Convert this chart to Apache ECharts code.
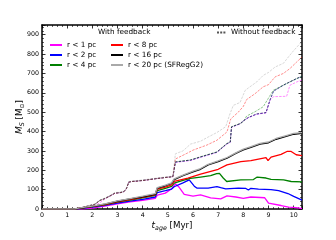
<!DOCTYPE html>
<html><head><meta charset="utf-8">
<script src="https://cdn.jsdelivr.net/npm/echarts@6/dist/echarts.min.js"></script>
<style>html,body{margin:0;padding:0;background:#fff}#c{width:336px;height:240px}</style>
</head><body><div id="c"></div><script>
// ---- With feedback (solid) ----
const tR1 = [0, 1.5, 2.0, 2.5, 3.0, 3.5, 4.0, 4.5, 4.58, 4.9, 5.15, 5.3, 5.45, 5.65, 6.0, 6.3, 6.7, 7.1, 7.35, 7.7, 8.0, 8.3, 8.85, 9.0, 9.5, 9.8, 10.1, 10.33];
const mR1 = [0, 0, 4, 15, 27, 37, 45, 55, 72, 82, 105, 130, 112, 75, 67, 73, 57, 52, 68, 62, 55, 62, 58, 30, 18, 10, 7, 2];
const tR2 = [0, 1.3, 1.5, 2.0, 2.5, 3.0, 3.5, 4.0, 4.5, 4.58, 4.9, 5.15, 5.25, 5.6, 5.85, 5.92, 6.05, 6.15, 6.6, 6.95, 7.1, 7.3, 7.8, 8.1, 8.2, 8.3, 8.6, 9.1, 9.4, 9.77, 10.0, 10.33];
const mR2 = [0, 0, 2, 10, 19, 31, 41, 50, 62, 85, 95, 103, 115, 135, 150, 148, 118, 108, 108, 115, 110, 104, 108, 106, 98, 107, 103, 100, 95, 80, 65, 46];
const tR4 = [0, 1.3, 1.5, 2.0, 2.5, 3.0, 3.5, 4.0, 4.5, 4.58, 4.9, 5.15, 5.25, 5.6, 5.9, 6.3, 6.7, 6.94, 7.05, 7.2, 7.34, 7.9, 8.4, 8.55, 8.9, 9.1, 9.6, 9.9, 10.33];
const mR4 = [0, 0, 3, 12, 22, 35, 46, 57, 70, 95, 106, 117, 133, 148, 158, 165, 172, 183, 184, 160, 142, 150, 152, 165, 160, 153, 150, 142, 140];
const tR8 = [0, 1.3, 1.5, 2.0, 2.5, 3.0, 3.5, 4.0, 4.5, 4.58, 4.9, 5.15, 5.25, 5.8, 6.3, 7.0, 7.35, 7.9, 8.3, 8.9, 8.98, 9.1, 9.5, 9.75, 9.9, 10.1, 10.33];
const mR8 = [0, 0, 4, 13, 23, 37, 49, 60, 73, 102, 113, 125, 143, 160, 180, 205, 228, 245, 250, 265, 250, 268, 282, 298, 297, 280, 276];
const tR16 = [0, 1.3, 1.5, 2.0, 2.5, 3.0, 3.5, 4.0, 4.5, 4.58, 4.9, 5.15, 5.25, 5.6, 6.0, 6.3, 6.6, 7.0, 7.35, 7.7, 8.0, 8.3, 8.66, 9.0, 9.3, 9.7, 10.0, 10.33];
const mR16 = [0, 0, 5, 14, 25, 40, 52, 63, 76, 108, 120, 132, 152, 172, 192, 205, 228, 245, 262, 287, 305, 318, 335, 342, 360, 375, 386, 390];
const tR20 = [0, 1.3, 1.5, 2.0, 2.5, 3.0, 3.5, 4.0, 4.5, 4.58, 4.9, 5.15, 5.25, 5.6, 6.0, 6.3, 6.6, 7.0, 7.35, 7.7, 8.0, 8.3, 8.66, 9.0, 9.3, 9.7, 10.0, 10.33];
const mR20 = [0, 0, 6, 15, 27, 42, 54, 66, 79, 111, 123, 135, 156, 175, 195, 209, 231, 248, 266, 290, 309, 322, 339, 346, 364, 379, 390, 394];

// ---- Without feedback (dashed) ----
const tNR1 = [0, 1.3, 1.5, 1.8, 2.1, 2.3, 2.5, 2.7, 2.9, 3.1, 3.25, 3.35, 3.45, 3.6, 4.0, 4.5, 5.0, 5.2, 5.3, 5.9, 6.3, 6.95, 7.34, 7.48, 7.53, 7.87, 8.0, 8.2, 8.53, 8.9, 9.06, 9.2, 9.72, 9.85, 10.12, 10.33];
const mNR1 = [0, 0, 3, 10, 18, 32, 52, 66, 81, 84, 89, 104, 139, 142, 147, 156, 164, 167, 240, 250, 267, 292, 335, 344, 422, 439, 454, 471, 489, 496, 562, 580, 582, 639, 656, 666];
const tNR2 = [0, 1.3, 1.5, 1.8, 2.1, 2.3, 2.5, 2.7, 2.9, 3.1, 3.25, 3.35, 3.45, 3.6, 4.0, 4.5, 5.0, 5.2, 5.3, 5.9, 6.3, 6.95, 7.34, 7.48, 7.53, 7.87, 8.0, 8.2, 8.53, 8.9, 9.06, 9.2, 9.59, 9.85, 10.12, 10.33];
const mNR2 = [0, 0, 5, 14, 24, 44, 54, 67, 82, 84, 89, 104, 139, 142, 147, 156, 164, 167, 242, 252, 268, 293, 336, 345, 423, 440, 455, 472, 490, 497, 563, 608, 639, 656, 673, 685];
const tNR4 = [0, 1.3, 1.5, 1.8, 2.1, 2.3, 2.5, 2.7, 2.9, 3.1, 3.25, 3.35, 3.45, 3.6, 4.0, 4.5, 5.0, 5.2, 5.3, 5.9, 6.3, 6.95, 7.34, 7.48, 7.53, 7.87, 8.0, 8.13, 8.46, 8.79, 8.99, 9.19, 9.59, 9.85, 10.12, 10.33];
const mNR4 = [0, 0, 5, 14, 24, 44, 54, 67, 82, 84, 89, 104, 139, 142, 147, 156, 164, 167, 243, 253, 270, 295, 338, 347, 425, 441, 450, 480, 502, 528, 571, 613, 639, 656, 673, 685];
const tNR8 = [0, 1.3, 1.5, 1.8, 2.1, 2.3, 2.5, 2.7, 2.9, 3.1, 3.25, 3.35, 3.45, 3.6, 4.0, 4.5, 5.0, 5.2, 5.3, 5.75, 6.0, 6.55, 6.95, 7.35, 7.5, 7.8, 8.0, 8.13, 8.46, 8.79, 9.0, 9.26, 9.59, 9.85, 10.12, 10.33];
const mNR8 = [0, 0, 5, 14, 24, 44, 54, 67, 82, 84, 89, 104, 139, 142, 147, 156, 164, 167, 258, 287, 304, 330, 355, 398, 465, 500, 530, 565, 595, 631, 642, 682, 700, 725, 759, 785];
const tNR16 = [0, 1.3, 1.5, 1.8, 2.1, 2.3, 2.5, 2.7, 2.9, 3.1, 3.25, 3.35, 3.45, 3.6, 4.0, 4.5, 5.0, 5.2, 5.3, 5.9, 6.3, 6.95, 7.34, 7.48, 7.53, 7.87, 8.0, 8.2, 8.53, 8.9, 9.06, 9.2, 9.59, 9.85, 10.12, 10.33];
const mNR16 = [0, 0, 5, 15, 25, 45, 55, 68, 83, 85, 90, 105, 140, 143, 148, 157, 165, 168, 243, 253, 269, 294, 337, 346, 424, 441, 456, 473, 491, 498, 564, 609, 640, 657, 674, 686];
const tNR20 = [0, 1.3, 1.5, 1.8, 2.1, 2.3, 2.5, 2.7, 2.9, 3.1, 3.25, 3.35, 3.45, 3.6, 4.0, 4.5, 5.0, 5.2, 5.3, 5.6, 5.9, 6.3, 6.55, 6.95, 7.3, 7.45, 7.6, 7.87, 8.07, 8.2, 8.53, 8.79, 9.0, 9.26, 9.59, 9.79, 10.0, 10.33];
const mNR20 = [0, 0, 6, 16, 26, 46, 57, 70, 85, 87, 92, 107, 142, 145, 150, 159, 167, 170, 285, 300, 335, 350, 368, 395, 425, 485, 535, 550, 612, 625, 656, 690, 705, 733, 752, 785, 818, 865];

// ---- labels ----
const solidNames = ['r < 1 pc', 'r < 2 pc', 'r < 4 pc', 'r < 8 pc', 'r < 16 pc', 'r < 20 pc (SFRegG2)'];
const legendTitle = 'With feedback';
const dashedLegendName = 'Without feedback';
const xTicks = [0, 1, 2, 3, 4, 5, 6, 7, 8, 9, 10];
const yTicks = [0, 100, 200, 300, 400, 500, 600, 700, 800, 900];

const colors = ['#ff00ff', '#0000ff', '#008000', '#ff0000', '#000000', '#a9a9a9'];
const zip = (t, m) => t.map((v, i) => [v, m[i]]);
const solidData = [[tR1, mR1], [tR2, mR2], [tR4, mR4], [tR8, mR8], [tR16, mR16], [tR20, mR20]];
const dashedData = [[tNR1, mNR1], [tNR2, mNR2], [tNR4, mNR4], [tNR8, mNR8], [tNR16, mNR16], [tNR20, mNR20]];

const FONT = 'DejaVu Sans';
const series = [];
dashedData.forEach((d, i) => {
  series.push({
    name: solidNames[i] + ' (no feedback)', type: 'line', data: zip(d[0], d[1]),
    symbol: 'none', silent: true, animation: false,
    lineStyle: { color: colors[i], width: 1, type: [2.5, 1.2], opacity: 0.45 }, z: 2
  });
});
solidData.forEach((d, i) => {
  series.push({
    name: solidNames[i], type: 'line', data: zip(d[0], d[1]),
    symbol: 'none', silent: true, animation: false,
    itemStyle: { color: colors[i] },
    lineStyle: { color: colors[i], width: 1.3 }, z: 3
  });
});
series.push({
  name: dashedLegendName, type: 'line', data: [], symbol: 'none',
  itemStyle: { color: '#555' },
  lineStyle: { color: '#555', width: 1, type: [2, 1.2] }
});

const axisCommon = {
  axisLine: { show: true, onZero: false, lineStyle: { color: '#000', width: 1.5 } },
  axisTick: { show: true, inside: true, length: 3.5, lineStyle: { color: '#000', width: 0.8 } },
  minorTick: { show: true, splitNumber: 5, length: 2, lineStyle: { color: '#000', width: 0.6 } },
  splitLine: { show: false }
};
const labelCommon = { color: '#000', fontFamily: FONT, fontSize: 6.3 };
const legendCommon = {
  orient: 'vertical', padding: 0, itemWidth: 12, itemHeight: 8, itemGap: 3, itemTextGap: 4,
  itemStyle: { opacity: 0 },
  textStyle: { fontFamily: FONT, fontSize: 7.3, color: '#000' }
};

const option = {
  animation: false,
  backgroundColor: '#fff',
  textStyle: { fontFamily: FONT },
  title: { text: legendTitle, left: 98, top: 29, padding: 0,
    textStyle: { fontFamily: FONT, fontSize: 7.3, fontWeight: 'normal', color: '#000' } },
  grid: { left: 42, right: 34, top: 25, bottom: 31 },
  legend: [
    Object.assign({ data: solidNames.slice(0, 3), left: 49, top: 41.5 }, legendCommon),
    Object.assign({ data: solidNames.slice(3), left: 110, top: 41.5 }, legendCommon),
    Object.assign({}, legendCommon, { data: [dashedLegendName], left: 216, top: 29, itemWidth: 9 })
  ],
  xAxis: [
    Object.assign({ type: 'value', min: xTicks[0], max: 10.33, interval: 1, position: 'bottom',
      axisLabel: Object.assign({ margin: 3, showMaxLabel: false,
        formatter: v => xTicks.includes(v) ? String(v) : '' }, labelCommon),
      name: '{it|t}{sub|age}{n| [Myr]}', nameLocation: 'middle', nameGap: 11, nameMoveOverlap: false,
      nameTextStyle: { fontFamily: FONT, color: '#000', fontSize: 8.7,
        rich: { it: { fontStyle: 'italic', fontSize: 9, fontFamily: FONT },
                sub: { fontStyle: 'italic', fontSize: 6.3, fontFamily: FONT, padding: [5, 0, 0, 0] },
                n: { fontSize: 8.7, fontFamily: FONT } } }
    }, axisCommon),
    Object.assign({ type: 'value', min: xTicks[0], max: 10.33, interval: 1, position: 'top',
      axisLabel: { show: false } }, axisCommon)
  ],
  yAxis: [
    Object.assign({ type: 'value', min: yTicks[0], max: 950, interval: 100, position: 'left',
      axisLabel: Object.assign({ margin: 3, showMaxLabel: false,
        formatter: v => yTicks.includes(v) ? String(v) : '' }, labelCommon),
      name: '{it|M}{sub|S}{n| [M}{sub2|⊙}{n|]}', nameLocation: 'middle', nameGap: 17, nameRotate: 90,
      nameMoveOverlap: false,
      nameTextStyle: { fontFamily: FONT, color: '#000', fontSize: 8.7,
        rich: { it: { fontStyle: 'italic', fontSize: 9, fontFamily: FONT },
                sub: { fontStyle: 'italic', fontSize: 6.3, fontFamily: FONT, padding: [5, 0, 0, 0] },
                sub2: { fontSize: 6, fontFamily: FONT, padding: [5, 0, 0, 0] },
                n: { fontSize: 8.7, fontFamily: FONT } } }
    }, axisCommon),
    Object.assign({ type: 'value', min: yTicks[0], max: 950, interval: 100, position: 'right',
      axisLabel: { show: false } }, axisCommon)
  ],
  series: series
};
const chart = echarts.init(document.getElementById('c'));
chart.setOption(option);
</script></body></html>
